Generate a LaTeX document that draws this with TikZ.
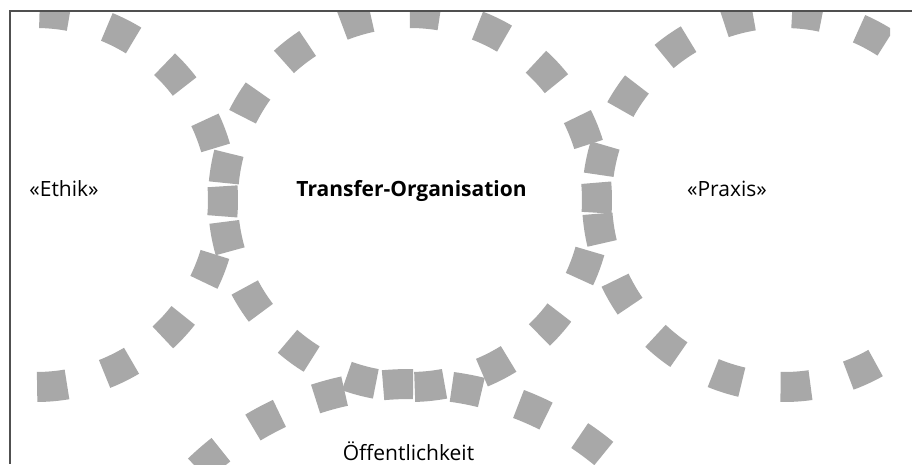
\documentclass[tikz,border=0pt]{standalone}
\usepackage{fontspec}
\setmainfont{Open Sans}
\definecolor{sq}{RGB}{168,168,168}
\definecolor{framecol}{RGB}{80,80,80}
\begin{document}
\begin{tikzpicture}[x=1pt,y=1pt,
  sqdash/.style={draw=sq,line width=30pt},
  lbl/.style={inner sep=0pt,anchor=base,font=\fontsize{21}{24}\selectfont},
  boldlbl/.style={lbl,font=\fontsize{21}{24}\selectfont\bfseries},
  framestyle/.style={draw=framecol,line width=2pt}]
\useasboundingbox (0,0) rectangle (912,464);
\fill[white] (0,0) rectangle (912,464);
\begin{scope}
\clip (10,0) rectangle (890,453);
% three tangent circles of r = 187
\foreach \cx/\ph in {36/-0.4, 410/0.7, 784/-1.8}{
  \foreach \k in {0,...,16}{
    \pgfmathsetmacro\sa{\ph+21.18*\k-4.6}
    \pgfmathsetmacro\ea{\ph+21.18*\k+4.6}
    \draw[sqdash] ([shift={(\sa:187)}]\cx,264) arc[start angle=\sa, end angle=\ea, radius=187];
  }
}
% bottom circle of r = 305
\foreach \k in {-4,...,4}{
  \pgfmathsetmacro\sa{92.25+12.96*\k-2.82}
  \pgfmathsetmacro\ea{92.25+12.96*\k+2.82}
  \draw[sqdash] ([shift={(\sa:305)}]410,-225) arc[start angle=\sa, end angle=\ea, radius=305];
}
\end{scope}
\draw[framestyle] (912,453) -- (10,453) -- (10,0);
\node[lbl] (ethik) at (64,267) {«Ethik»};
\node[boldlbl] (transfer) at (411.5,267) {Transfer-Organisation};
\node[lbl] (praxis) at (727,267) {«Praxis»};
\node[lbl] (oeff) at (408.5,4) {Öffentlichkeit};
\end{tikzpicture}
\end{document}
